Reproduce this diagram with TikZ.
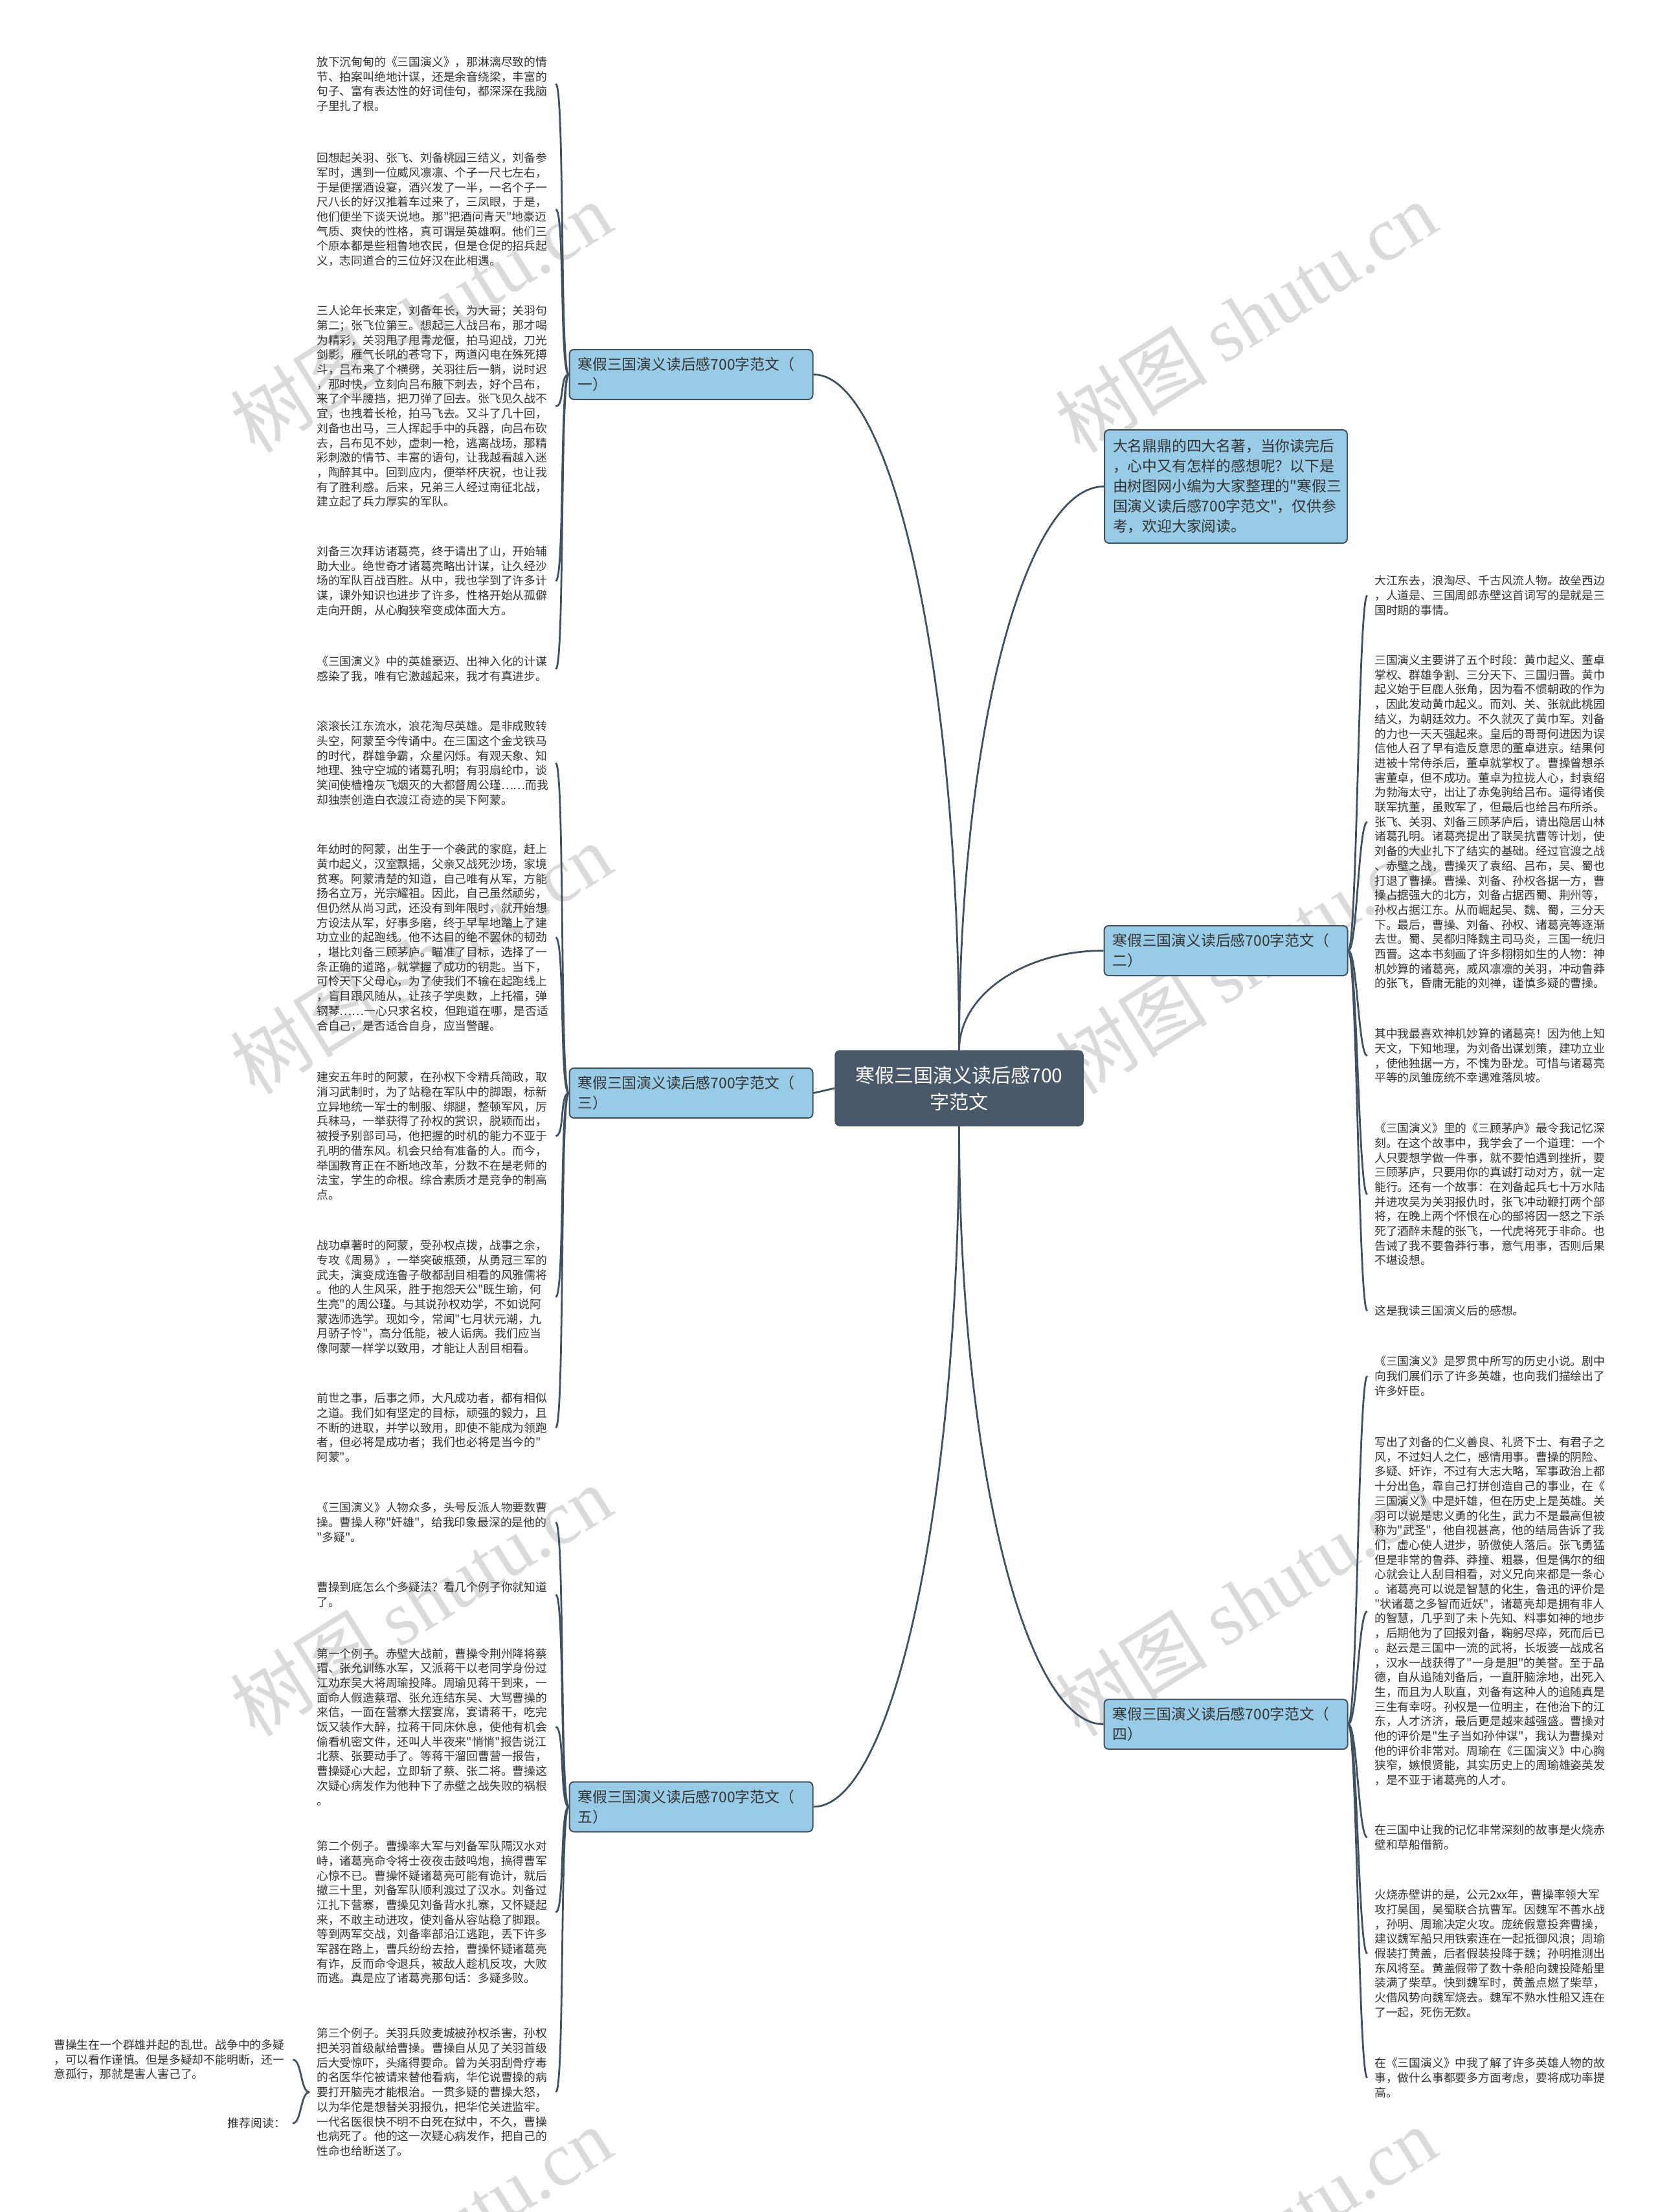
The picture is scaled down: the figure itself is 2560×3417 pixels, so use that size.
\documentclass[tikz,border=0pt]{standalone}
\usepackage{fontspec}
\newfontfamily\cjk{Noto Sans CJK SC}
\newfontfamily\wmlatin{Liberation Serif}
\definecolor{mmline}{RGB}{64,82,98}
\definecolor{mmroot}{RGB}{74,89,106}
\definecolor{mmblue}{RGB}{152,204,230}
\definecolor{mmtext}{RGB}{51,51,51}
\definecolor{mmmark}{RGB}{218,218,218}

\begin{document}
\begin{tikzpicture}[x=1pt, y=1pt,
    root/.style={rectangle, rounded corners=7pt, fill=mmroot, draw=mmline, line width=1.5pt,
      text=white, align=center, minimum width=383pt, minimum height=116pt,
      font=\cjk\fontsize{30}{41}\selectfont},
    branch/.style={rectangle, rounded corners=7pt, fill=mmblue, draw=mmline, line width=2pt,
      text=mmtext, align=left, text width=350pt, inner xsep=13pt, minimum height=77pt,
      font=\cjk\fontsize{22.8}{31}\selectfont},
    leaf/.style={text=mmtext, align=left, text width=358pt, inner xsep=11pt, inner ysep=0pt,
      anchor=west, font=\cjk\fontsize{17.8}{22.7}\selectfont},
    link/.style={draw=mmline, line width=2.8pt},
    wmark/.style={text=mmmark, rotate=32, font=\cjk\fontsize{118}{118}\selectfont}
  ]
    \useasboundingbox (0,0) rectangle (2560,-3417);
    \fill[white] (0,0) rectangle (2560,-3417);

    % watermarks
    \node[wmark] (wm1) at (650,-490)   {树图 {\wmlatin shutu.cn}};
    \node[wmark] (wm2) at (1924,-490)  {树图 {\wmlatin shutu.cn}};
    \node[wmark] (wm3) at (650,-1481)  {树图 {\wmlatin shutu.cn}};
    \node[wmark] (wm4) at (1924,-1481) {树图 {\wmlatin shutu.cn}};
    \node[wmark] (wm5) at (650,-2473)  {树图 {\wmlatin shutu.cn}};
    \node[wmark] (wm6) at (1924,-2473) {树图 {\wmlatin shutu.cn}};
    \node[wmark] (wm7) at (650,-3464)  {树图 {\wmlatin shutu.cn}};
    \node[wmark] (wm8) at (1924,-3464) {树图 {\wmlatin shutu.cn}};

    \node[root] (root) at (1481.5,-1681) {寒假三国演义读后感700\\字范文};

    \node[branch] (b1) at (1067.5,-578.5)  {寒假三国演义读后感700字范文（\\一）};
    \node[branch] (b3) at (1067.5,-1688.5) {寒假三国演义读后感700字范文（\\三）};
    \node[branch] (b5) at (1067.5,-2791)   {寒假三国演义读后感700字范文（\\五）};
    \node[branch, minimum height=175pt, text width=349pt] (intro) at (1893.5,-751.5)
      {大名鼎鼎的四大名著，当你读完后\\，心中又有怎样的感想呢？以下是\\由树图网小编为大家整理的"寒假三\\国演义读后感700字范文"，仅供参\\考，欢迎大家阅读。};
    \node[branch] (b2) at (1893.5,-1468.5) {寒假三国演义读后感700字范文（\\二）};
    \node[branch] (b4) at (1893.5,-2663.5) {寒假三国演义读后感700字范文（\\四）};

    % left leaves
    \node[leaf] (l1) at (478,-129.7) {放下沉甸甸的《三国演义》，那淋漓尽致的情\\节、拍案叫绝地计谋，还是余音绕梁，丰富的\\句子、富有表达性的好词佳句，都深深在我脑\\子里扎了根。};
    \node[leaf] (l2) at (478,-323.5) {回想起关羽、张飞、刘备桃园三结义，刘备参\\军时，遇到一位威风凛凛、个子一尺七左右，\\于是便摆酒设宴，酒兴发了一半，一名个子一\\尺八长的好汉推着车过来了，三凤眼，于是，\\他们便坐下谈天说地。那"把酒问青天"地豪迈\\气质、爽快的性格，真可谓是英雄啊。他们三\\个原本都是些粗鲁地农民，但是仓促的招兵起\\义，志同道合的三位好汉在此相遇。};
    \node[leaf] (l3) at (478,-627.5) {三人论年长来定，刘备年长，为大哥；关羽句\\第二；张飞位第三。想起三人战吕布，那才喝\\为精彩，关羽甩了甩青龙偃，拍马迎战，刀光\\剑影，雁气长吼的苍穹下，两道闪电在殊死搏\\斗，吕布来了个横劈，关羽往后一躺，说时迟\\，那时快，立刻向吕布腋下刺去，好个吕布，\\来了个半腰挡，把刀弹了回去。张飞见久战不\\宜，也拽着长枪，拍马飞去。又斗了几十回，\\刘备也出马，三人挥起手中的兵器，向吕布砍\\去，吕布见不妙，虚刺一枪，逃离战场，那精\\彩刺激的情节、丰富的语句，让我越看越入迷\\，陶醉其中。回到应内，便举杯庆祝，也让我\\有了胜利感。后来，兄弟三人经过南征北战，\\建立起了兵力厚实的军队。};
    \node[leaf] (l4) at (478,-897.4) {刘备三次拜访诸葛亮，终于请出了山，开始辅\\助大业。绝世奇才诸葛亮略出计谋，让久经沙\\场的军队百战百胜。从中，我也学到了许多计\\谋，课外知识也进步了许多，性格开始从孤僻\\走向开朗，从心胸狭窄变成体面大方。};
    \node[leaf] (l5) at (478,-1033.4) {《三国演义》中的英雄豪迈、出神入化的计谋\\感染了我，唯有它激越起来，我才有真进步。};
    \node[leaf] (l6) at (478,-1178.8) {滚滚长江东流水，浪花淘尽英雄。是非成败转\\头空，阿蒙至今传诵中。在三国这个金戈铁马\\的时代，群雄争霸，众星闪烁。有观天象、知\\地理、独守空城的诸葛孔明；有羽扇纶巾，谈\\笑间使樯橹灰飞烟灭的大都督周公瑾……而我\\却独崇创造白衣渡江奇迹的吴下阿蒙。};
    \node[leaf] (l7) at (478,-1448.2) {年幼时的阿蒙，出生于一个袭武的家庭，赶上\\黄巾起义，汉室飘摇，父亲又战死沙场，家境\\贫寒。阿蒙清楚的知道，自己唯有从军，方能\\扬名立万，光宗耀祖。因此，自己虽然顽劣，\\但仍然从尚习武，还没有到年限时，就开始想\\方设法从军，好事多磨，终于早早地踏上了建\\功立业的起跑线。他不达目的绝不罢休的韧劲\\，堪比刘备三顾茅庐。瞄准了目标，选择了一\\条正确的道路，就掌握了成功的钥匙。当下，\\可怜天下父母心，为了使我们不输在起跑线上\\，盲目跟风随从，让孩子学奥数，上托福，弹\\钢琴……一心只求名校，但跑道在哪，是否适\\合自己，是否适合自身，应当警醒。};
    \node[leaf] (l8) at (478,-1754.8) {建安五年时的阿蒙，在孙权下令精兵简政，取\\消习武制时，为了站稳在军队中的脚跟，标新\\立异地统一军士的制服、绑腿，整顿军风，厉\\兵秣马，一举获得了孙权的赏识，脱颖而出，\\被授予别部司马，他把握的时机的能力不亚于\\孔明的借东风。机会只给有准备的人。而今，\\举国教育正在不断地改革，分数不在是老师的\\法宝，学生的命根。综合素质才是竞争的制高\\点。};
    \node[leaf] (l9) at (478,-2003.5) {战功卓著时的阿蒙，受孙权点拨，战事之余，\\专攻《周易》，一举突破瓶颈，从勇冠三军的\\武夫，演变成连鲁子敬都刮目相看的风雅儒将\\。他的人生风采，胜于抱怨天公"既生瑜，何\\生亮"的周公瑾。与其说孙权劝学，不如说阿\\蒙选师选学。现如今，常闻"七月状元潮，九\\月骄子怜"，高分低能，被人诟病。我们应当\\像阿蒙一样学以致用，才能让人刮目相看。};
    \node[leaf] (l10) at (478,-2205.4) {前世之事，后事之师，大凡成功者，都有相似\\之道。我们如有坚定的目标，顽强的毅力，且\\不断的进取，并学以致用，即使不能成为领跑\\者，但必将是成功者；我们也必将是当今的"\\阿蒙"。};
    \node[leaf] (l11) at (478,-2351.7) {《三国演义》人物众多，头号反派人物要数曹\\操。曹操人称"奸雄"，给我印象最深的是他的\\"多疑"。};
    \node[leaf] (l12) at (478,-2463.4) {曹操到底怎么个多疑法？看几个例子你就知道\\了。};
    \node[leaf] (l13) at (478,-2667.5) {第一个例子。赤壁大战前，曹操令荆州降将蔡\\瑁、张允训练水军，又派蒋干以老同学身份过\\江劝东吴大将周瑜投降。周瑜见蒋干到来，一\\面命人假造蔡瑁、张允连结东吴、大骂曹操的\\来信，一面在营寨大摆宴席，宴请蒋干，吃完\\饭又装作大醉，拉蒋干同床休息，使他有机会\\偷看机密文件，还叫人半夜来"悄悄"报告说江\\北蔡、张要动手了。等蒋干溜回曹营一报告，\\曹操疑心大起，立即斩了蔡、张二将。曹操这\\次疑心病发作为他种下了赤壁之战失败的祸根\\。};
    \node[leaf] (l14) at (478,-2954) {第二个例子。曹操率大军与刘备军队隔汉水对\\峙，诸葛亮命令将士夜夜击鼓鸣炮，搞得曹军\\心惊不已。曹操怀疑诸葛亮可能有诡计，就后\\撤三十里，刘备军队顺利渡过了汉水。刘备过\\江扎下营寨，曹操见刘备背水扎寨，又怀疑起\\来，不敢主动进攻，使刘备从容站稳了脚跟。\\等到两军交战，刘备率部沿江逃跑，丢下许多\\军器在路上，曹兵纷纷去拾，曹操怀疑诸葛亮\\有诈，反而命令退兵，被敌人趁机反攻，大败\\而逃。真是应了诸葛亮那句话：多疑多败。};
    \node[leaf] (l15) at (478,-3231.8) {第三个例子。关羽兵败麦城被孙权杀害，孙权\\把关羽首级献给曹操。曹操自从见了关羽首级\\后大受惊吓，头痛得要命。曾为关羽刮骨疗毒\\的名医华佗被请来替他看病，华佗说曹操的病\\要打开脑壳才能根治。一贯多疑的曹操大怒，\\以为华佗是想替关羽报仇，把华佗关进监牢。\\一代名医很快不明不白死在狱中，不久，曹操\\也病死了。他的这一次疑心病发作，把自己的\\性命也给断送了。};
    \node[leaf] (s1) at (72,-3181.7) {曹操生在一个群雄并起的乱世。战争中的多疑\\，可以看作谨慎。但是多疑却不能明断，还一\\意孤行，那就是害人害己了。};
    \node[leaf, anchor=east, text width=90pt, align=right] (s2) at (452,-3280) {推荐阅读：};

    % right leaves
    \node[leaf] (r1) at (2112,-919.7) {大江东去，浪淘尽、千古风流人物。故垒西边\\，人道是、三国周郎赤壁这首词写的是就是三\\国时期的事情。};
    \node[leaf] (r2) at (2112,-1269.7) {三国演义主要讲了五个时段：黄巾起义、董卓\\掌权、群雄争割、三分天下、三国归晋。黄巾\\起义始于巨鹿人张角，因为看不惯朝政的作为\\，因此发动黄巾起义。而刘、关、张就此桃园\\结义，为朝廷效力。不久就灭了黄巾军。刘备\\的力也一天天强起来。皇后的哥哥何进因为误\\信他人召了早有造反意思的董卓进京。结果何\\进被十常侍杀后，董卓就掌权了。曹操曾想杀\\害董卓，但不成功。董卓为拉拢人心，封袁绍\\为勃海太守，出让了赤兔驹给吕布。逼得诸侯\\联军抗董，虽败军了，但最后也给吕布所杀。\\张飞、关羽、刘备三顾茅庐后，请出隐居山林\\诸葛孔明。诸葛亮提出了联吴抗曹等计划，使\\刘备的大业扎下了结实的基础。经过官渡之战\\、赤壁之战，曹操灭了袁绍、吕布，吴、蜀也\\打退了曹操。曹操、刘备、孙权各据一方，曹\\操占据强大的北方，刘备占据西蜀、荆州等，\\孙权占据江东。从而崛起吴、魏、蜀，三分天\\下。最后，曹操、刘备、孙权、诸葛亮等逐渐\\去世。蜀、吴都归降魏主司马炎，三国一统归\\西晋。这本书刻画了许多栩栩如生的人物：神\\机妙算的诸葛亮，威风凛凛的关羽，冲动鲁莽\\的张飞，昏庸无能的刘禅，谨慎多疑的曹操。};
    \node[leaf] (r3) at (2112,-1631) {其中我最喜欢神机妙算的诸葛亮！因为他上知\\天文，下知地理，为刘备出谋划策，建功立业\\，使他独据一方，不愧为卧龙。可惜与诸葛亮\\平等的凤雏庞统不幸遇难落凤坡。};
    \node[leaf] (r4) at (2112,-1845) {《三国演义》里的《三顾茅庐》最令我记忆深\\刻。在这个故事中，我学会了一个道理：一个\\人只要想学做一件事，就不要怕遇到挫折，要\\三顾茅庐，只要用你的真诚打动对方，就一定\\能行。还有一个故事：在刘备起兵七十万水陆\\并进攻吴为关羽报仇时，张飞冲动鞭打两个部\\将，在晚上两个怀恨在心的部将因一怒之下杀\\死了酒醉未醒的张飞，一代虎将死于非命。也\\告诫了我不要鲁莽行事，意气用事，否则后果\\不堪设想。};
    \node[leaf] (r5) at (2112,-2025) {这是我读三国演义后的感想。};
    \node[leaf] (r6) at (2112,-2125.7) {《三国演义》是罗贯中所写的历史小说。剧中\\向我们展们示了许多英雄，也向我们描绘出了\\许多奸臣。};
    \node[leaf] (r7) at (2112,-2489) {写出了刘备的仁义善良、礼贤下士、有君子之\\风，不过妇人之仁，感情用事。曹操的阴险、\\多疑、奸诈，不过有大志大略，军事政治上都\\十分出色，靠自己打拼创造自己的事业，在《\\三国演义》中是奸雄，但在历史上是英雄。关\\羽可以说是忠义勇的化生，武力不是最高但被\\称为"武圣"，他自视甚高，他的结局告诉了我\\们，虚心使人进步，骄傲使人落后。张飞勇猛\\但是非常的鲁莽、莽撞、粗暴，但是偶尔的细\\心就会让人刮目相看，对义兄向来都是一条心\\。诸葛亮可以说是智慧的化生，鲁迅的评价是\\"状诸葛之多智而近妖"，诸葛亮却是拥有非人\\的智慧，几乎到了未卜先知、料事如神的地步\\，后期他为了回报刘备，鞠躬尽瘁，死而后已\\。赵云是三国中一流的武将，长坂婆一战成名\\，汉水一战获得了"一身是胆"的美誉。至于品\\德，自从追随刘备后，一直肝脑涂地，出死入\\生，而且为人耿直，刘备有这种人的追随真是\\三生有幸呀。孙权是一位明主，在他治下的江\\东，人才济济，最后更是越来越强盛。曹操对\\他的评价是"生子当如孙仲谋"，我认为曹操对\\他的评价非常对。周瑜在《三国演义》中心胸\\狭窄，嫉恨贤能，其实历史上的周瑜雄姿英发\\，是不亚于诸葛亮的人才。};
    \node[leaf] (r8) at (2112,-2838.4) {在三国中让我的记忆非常深刻的故事是火烧赤\\壁和草船借箭。};
    \node[leaf] (r9) at (2112,-3017.8) {火烧赤壁讲的是，公元2xx年，曹操率领大军\\攻打吴国，吴蜀联合抗曹军。因魏军不善水战\\，孙明、周瑜决定火攻。庞统假意投奔曹操，\\建议魏军船只用铁索连在一起抵御风浪；周瑜\\假装打黄盖，后者假装投降于魏；孙明推测出\\东风将至。黄盖假带了数十条船向魏投降船里\\装满了柴草。快到魏军时，黄盖点燃了柴草，\\火借风势向魏军烧去。魏军不熟水性船又连在\\了一起，死伤无数。};
    \node[leaf] (r10) at (2112,-3209.7) {在《三国演义》中我了解了许多英雄人物的故\\事，做什么事都要多方面考虑，要将成功率提\\高。};

    % root to branches
    \draw[link] (root.north) .. controls +(0,575) and +(123,0) .. (b1.east);
    \draw[link] (root.north) .. controls +(0,480) and +(-124,0) .. (intro.west);
    \draw[link] (root.north) .. controls +(0,85) and +(-124,0) .. (b2.west);
    \draw[link] (root.west) -- (b3.east);
    \draw[link] (root.south) .. controls +(0,-579) and +(123,0) .. (b5.east);
    \draw[link] (root.south) .. controls +(0,-508) and +(-124,0) .. (b4.west);

    % branches to leaves
    \draw[link] (b1.west) .. controls +(-14,0) and +(14,0) .. (l1.east);
    \draw[link] (b1.west) .. controls +(-14,0) and +(14,0) .. (l2.east);
    \draw[link] (b1.west) .. controls +(-14,0) and +(14,0) .. (l3.east);
    \draw[link] (b1.west) .. controls +(-14,0) and +(14,0) .. (l4.east);
    \draw[link] (b1.west) .. controls +(-14,0) and +(14,0) .. (l5.east);
    \draw[link] (b3.west) .. controls +(-14,0) and +(14,0) .. (l6.east);
    \draw[link] (b3.west) .. controls +(-14,0) and +(14,0) .. (l7.east);
    \draw[link] (b3.west) .. controls +(-14,0) and +(14,0) .. (l8.east);
    \draw[link] (b3.west) .. controls +(-14,0) and +(14,0) .. (l9.east);
    \draw[link] (b3.west) .. controls +(-14,0) and +(14,0) .. (l10.east);
    \draw[link] (b5.west) .. controls +(-14,0) and +(14,0) .. (l11.east);
    \draw[link] (b5.west) .. controls +(-14,0) and +(14,0) .. (l12.east);
    \draw[link] (b5.west) .. controls +(-14,0) and +(14,0) .. (l13.east);
    \draw[link] (b5.west) .. controls +(-14,0) and +(14,0) .. (l14.east);
    \draw[link] (b5.west) .. controls +(-14,0) and +(14,0) .. (l15.east);
    \draw[link] (l15.west) .. controls +(-14,0) and +(14,0) .. (s1.east);
    \draw[link] (l15.west) .. controls +(-14,0) and +(14,0) .. (s2.east);

    \draw[link] (b2.east) .. controls +(14,0) and +(-14,0) .. (r1.west);
    \draw[link] (b2.east) .. controls +(14,0) and +(-14,0) .. (r2.west);
    \draw[link] (b2.east) .. controls +(14,0) and +(-14,0) .. (r3.west);
    \draw[link] (b2.east) .. controls +(14,0) and +(-14,0) .. (r4.west);
    \draw[link] (b2.east) .. controls +(14,0) and +(-14,0) .. (r5.west);
    \draw[link] (b4.east) .. controls +(14,0) and +(-14,0) .. (r6.west);
    \draw[link] (b4.east) .. controls +(14,0) and +(-14,0) .. (r7.west);
    \draw[link] (b4.east) .. controls +(14,0) and +(-14,0) .. (r8.west);
    \draw[link] (b4.east) .. controls +(14,0) and +(-14,0) .. (r9.west);
    \draw[link] (b4.east) .. controls +(14,0) and +(-14,0) .. (r10.west);
  \end{tikzpicture}
\end{document}
